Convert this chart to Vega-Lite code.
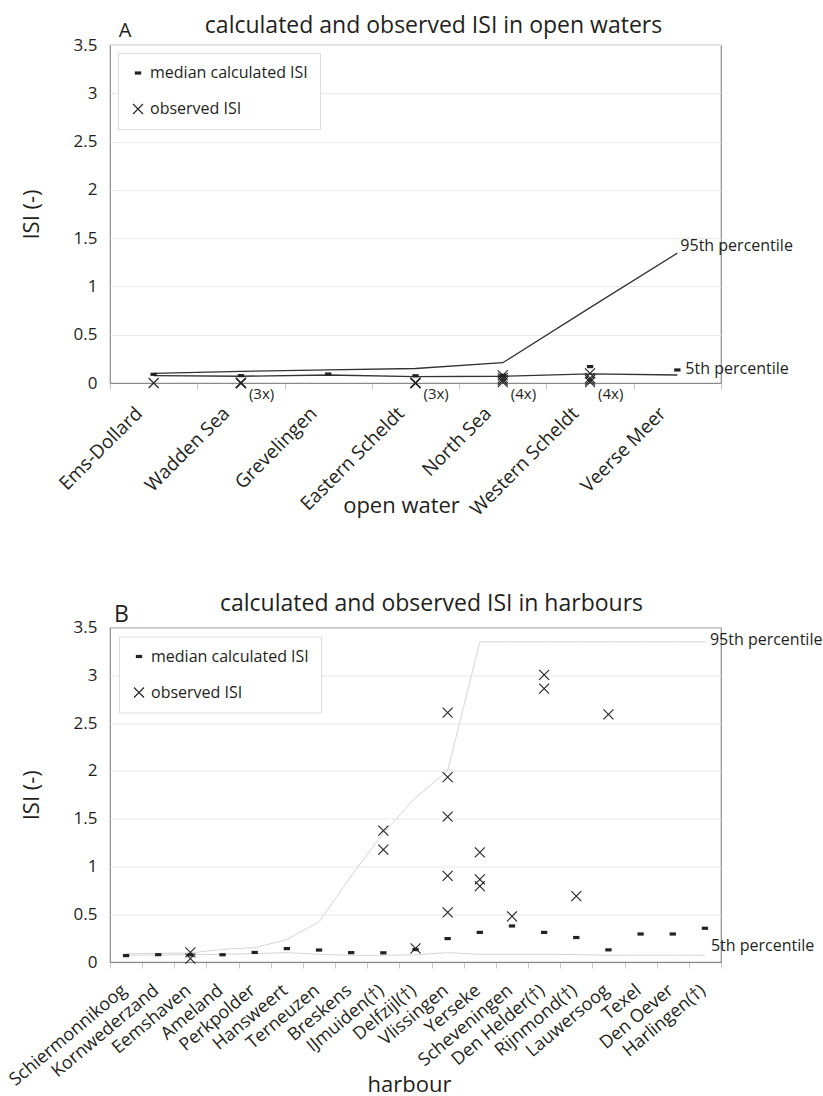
{
  "$schema": "https://vega.github.io/schema/vega-lite/v6.json",
  "autosize": "none",
  "padding": {"left": 110, "top": 45, "right": 713, "bottom": 1051},
  "background": "white",
  "config": {
    "font": "Open Sans",
    "view": {"stroke": "#8a8a8a", "strokeWidth": 1.2},
    "axis": {
      "labelFont": "Open Sans", "labelFontSize": 17, "labelColor": "#231f20",
      "titleFont": "Open Sans", "titleFontSize": 22, "titleFontWeight": "normal", "titleColor": "#231f20",
      "gridColor": "#e8e8e8", "tickColor": "#c8c8c8", "domainColor": "#8a8a8a"
    },
    "axisY": {"ticks": false, "domain": false, "labelPadding": 13, "titleX": -79, "titleBaseline": "middle"},
    "axisX": {"tickBand": "extent", "tickSize": 6, "labelAlign": "right", "labelBaseline": "middle", "grid": false, "titleY": 129, "titleBaseline": "alphabetic"},
    "text": {"font": "Open Sans", "color": "#231f20"}
  },
  "datasets": {
    "openPts": [
      {"site": "Ems-Dollard", "kind": "median calculated ISI", "isi": 0.09},
      {"site": "Wadden Sea", "kind": "median calculated ISI", "isi": 0.076},
      {"site": "Grevelingen", "kind": "median calculated ISI", "isi": 0.093},
      {"site": "Eastern Scheldt", "kind": "median calculated ISI", "isi": 0.075},
      {"site": "North Sea", "kind": "median calculated ISI", "isi": 0.08},
      {"site": "Western Scheldt", "kind": "median calculated ISI", "isi": 0.17},
      {"site": "Veerse Meer", "kind": "median calculated ISI", "isi": 0.135},
      {"site": "Ems-Dollard", "kind": "observed ISI", "isi": 0},
      {"site": "Wadden Sea", "kind": "observed ISI", "isi": 0},
      {"site": "Wadden Sea", "kind": "observed ISI", "isi": 0},
      {"site": "Wadden Sea", "kind": "observed ISI", "isi": 0},
      {"site": "Eastern Scheldt", "kind": "observed ISI", "isi": 0},
      {"site": "Eastern Scheldt", "kind": "observed ISI", "isi": 0},
      {"site": "Eastern Scheldt", "kind": "observed ISI", "isi": 0},
      {"site": "North Sea", "kind": "observed ISI", "isi": 0.01},
      {"site": "North Sea", "kind": "observed ISI", "isi": 0.03},
      {"site": "North Sea", "kind": "observed ISI", "isi": 0.05},
      {"site": "North Sea", "kind": "observed ISI", "isi": 0.08},
      {"site": "Western Scheldt", "kind": "observed ISI", "isi": 0.01},
      {"site": "Western Scheldt", "kind": "observed ISI", "isi": 0.03},
      {"site": "Western Scheldt", "kind": "observed ISI", "isi": 0.05},
      {"site": "Western Scheldt", "kind": "observed ISI", "isi": 0.1}
    ],
    "openPct": [
      {"site": "Ems-Dollard", "pct": "95th percentile", "isi": 0.1},
      {"site": "Wadden Sea", "pct": "95th percentile", "isi": 0.12},
      {"site": "Grevelingen", "pct": "95th percentile", "isi": 0.135},
      {"site": "Eastern Scheldt", "pct": "95th percentile", "isi": 0.15},
      {"site": "North Sea", "pct": "95th percentile", "isi": 0.21},
      {"site": "Western Scheldt", "pct": "95th percentile", "isi": 0.78},
      {"site": "Veerse Meer", "pct": "95th percentile", "isi": 1.345},
      {"site": "Ems-Dollard", "pct": "5th percentile", "isi": 0.076},
      {"site": "Wadden Sea", "pct": "5th percentile", "isi": 0.07},
      {"site": "Grevelingen", "pct": "5th percentile", "isi": 0.083},
      {"site": "Eastern Scheldt", "pct": "5th percentile", "isi": 0.065},
      {"site": "North Sea", "pct": "5th percentile", "isi": 0.07},
      {"site": "Western Scheldt", "pct": "5th percentile", "isi": 0.095},
      {"site": "Veerse Meer", "pct": "5th percentile", "isi": 0.083}
    ],
    "openNotes": [
      {"site": "Wadden Sea", "note": "(3x)", "isi": 0},
      {"site": "Eastern Scheldt", "note": "(3x)", "isi": 0},
      {"site": "North Sea", "note": "(4x)", "isi": 0},
      {"site": "Western Scheldt", "note": "(4x)", "isi": 0}
    ],
    "harbourPts": [
      {"site": "Schiermonnikoog", "kind": "median calculated ISI", "isi": 0.067},
      {"site": "Kornwederzand", "kind": "median calculated ISI", "isi": 0.077},
      {"site": "Eemshaven", "kind": "median calculated ISI", "isi": 0.075},
      {"site": "Ameland", "kind": "median calculated ISI", "isi": 0.076},
      {"site": "Perkpolder", "kind": "median calculated ISI", "isi": 0.1},
      {"site": "Hansweert", "kind": "median calculated ISI", "isi": 0.14},
      {"site": "Terneuzen", "kind": "median calculated ISI", "isi": 0.125},
      {"site": "Breskens", "kind": "median calculated ISI", "isi": 0.098},
      {"site": "IJmuiden(†)", "kind": "median calculated ISI", "isi": 0.096},
      {"site": "Delfzijl(†)", "kind": "median calculated ISI", "isi": 0.13},
      {"site": "Vlissingen", "kind": "median calculated ISI", "isi": 0.245},
      {"site": "Yerseke", "kind": "median calculated ISI", "isi": 0.31},
      {"site": "Scheveningen", "kind": "median calculated ISI", "isi": 0.377},
      {"site": "Den Helder(†)", "kind": "median calculated ISI", "isi": 0.31},
      {"site": "Rijnmond(†)", "kind": "median calculated ISI", "isi": 0.256},
      {"site": "Lauwersoog", "kind": "median calculated ISI", "isi": 0.127},
      {"site": "Texel", "kind": "median calculated ISI", "isi": 0.293},
      {"site": "Den Oever", "kind": "median calculated ISI", "isi": 0.293},
      {"site": "Harlingen(†)", "kind": "median calculated ISI", "isi": 0.353},
      {"site": "Eemshaven", "kind": "observed ISI", "isi": 0.1},
      {"site": "Eemshaven", "kind": "observed ISI", "isi": 0.035},
      {"site": "IJmuiden(†)", "kind": "observed ISI", "isi": 1.375},
      {"site": "IJmuiden(†)", "kind": "observed ISI", "isi": 1.176},
      {"site": "Delfzijl(†)", "kind": "observed ISI", "isi": 0.142},
      {"site": "Vlissingen", "kind": "observed ISI", "isi": 2.61},
      {"site": "Vlissingen", "kind": "observed ISI", "isi": 1.935},
      {"site": "Vlissingen", "kind": "observed ISI", "isi": 1.52},
      {"site": "Vlissingen", "kind": "observed ISI", "isi": 0.9},
      {"site": "Vlissingen", "kind": "observed ISI", "isi": 0.52},
      {"site": "Yerseke", "kind": "observed ISI", "isi": 1.148},
      {"site": "Yerseke", "kind": "observed ISI", "isi": 0.865},
      {"site": "Yerseke", "kind": "observed ISI", "isi": 0.795},
      {"site": "Scheveningen", "kind": "observed ISI", "isi": 0.478},
      {"site": "Den Helder(†)", "kind": "observed ISI", "isi": 3.005},
      {"site": "Den Helder(†)", "kind": "observed ISI", "isi": 2.86},
      {"site": "Rijnmond(†)", "kind": "observed ISI", "isi": 0.69},
      {"site": "Lauwersoog", "kind": "observed ISI", "isi": 2.59}
    ],
    "harbourPct": [
      {"site": "Schiermonnikoog", "pct": "95th percentile", "isi": 0.088},
      {"site": "Kornwederzand", "pct": "95th percentile", "isi": 0.09},
      {"site": "Eemshaven", "pct": "95th percentile", "isi": 0.095},
      {"site": "Ameland", "pct": "95th percentile", "isi": 0.133},
      {"site": "Perkpolder", "pct": "95th percentile", "isi": 0.15},
      {"site": "Hansweert", "pct": "95th percentile", "isi": 0.235},
      {"site": "Terneuzen", "pct": "95th percentile", "isi": 0.42},
      {"site": "Breskens", "pct": "95th percentile", "isi": 0.9},
      {"site": "IJmuiden(†)", "pct": "95th percentile", "isi": 1.35},
      {"site": "Delfzijl(†)", "pct": "95th percentile", "isi": 1.72},
      {"site": "Vlissingen", "pct": "95th percentile", "isi": 2.0},
      {"site": "Yerseke", "pct": "95th percentile", "isi": 3.35},
      {"site": "Scheveningen", "pct": "95th percentile", "isi": 3.35},
      {"site": "Den Helder(†)", "pct": "95th percentile", "isi": 3.35},
      {"site": "Rijnmond(†)", "pct": "95th percentile", "isi": 3.35},
      {"site": "Lauwersoog", "pct": "95th percentile", "isi": 3.35},
      {"site": "Texel", "pct": "95th percentile", "isi": 3.35},
      {"site": "Den Oever", "pct": "95th percentile", "isi": 3.35},
      {"site": "Harlingen(†)", "pct": "95th percentile", "isi": 3.35},
      {"site": "Schiermonnikoog", "pct": "5th percentile", "isi": 0.07},
      {"site": "Kornwederzand", "pct": "5th percentile", "isi": 0.073},
      {"site": "Eemshaven", "pct": "5th percentile", "isi": 0.077},
      {"site": "Ameland", "pct": "5th percentile", "isi": 0.08},
      {"site": "Perkpolder", "pct": "5th percentile", "isi": 0.088},
      {"site": "Hansweert", "pct": "5th percentile", "isi": 0.098},
      {"site": "Terneuzen", "pct": "5th percentile", "isi": 0.08},
      {"site": "Breskens", "pct": "5th percentile", "isi": 0.07},
      {"site": "IJmuiden(†)", "pct": "5th percentile", "isi": 0.07},
      {"site": "Delfzijl(†)", "pct": "5th percentile", "isi": 0.075},
      {"site": "Vlissingen", "pct": "5th percentile", "isi": 0.098},
      {"site": "Yerseke", "pct": "5th percentile", "isi": 0.08},
      {"site": "Scheveningen", "pct": "5th percentile", "isi": 0.08},
      {"site": "Den Helder(†)", "pct": "5th percentile", "isi": 0.08},
      {"site": "Rijnmond(†)", "pct": "5th percentile", "isi": 0.078},
      {"site": "Lauwersoog", "pct": "5th percentile", "isi": 0.07},
      {"site": "Texel", "pct": "5th percentile", "isi": 0.072},
      {"site": "Den Oever", "pct": "5th percentile", "isi": 0.072},
      {"site": "Harlingen(†)", "pct": "5th percentile", "isi": 0.07}
    ],
    "headings": [
      {"panel": "A", "role": "tag", "site": "Ems-Dollard", "isi": 3.5, "text": "A"},
      {"panel": "A", "role": "title", "site": "Eastern Scheldt", "isi": 3.5, "text": "calculated and observed ISI in open waters"},
      {"panel": "B", "role": "tag", "site": "Schiermonnikoog", "isi": 3.5, "text": "B"},
      {"panel": "B", "role": "title", "site": "Delfzijl(†)", "isi": 3.5, "text": "calculated and observed ISI in harbours"}
    ]
  },
  "bounds": "flush",
  "spacing": 244.5,
  "resolve": {
    "scale": {"x": "independent", "y": "independent", "shape": "independent", "size": "independent", "strokeWidth": "independent"},
    "legend": {"shape": "independent", "size": "independent", "strokeWidth": "independent"}
  },
  "vconcat": [
    {
      "width": 611,
      "height": 338,
      "encoding": {
        "x": {"field": "site", "type": "nominal",
              "scale": {"type": "band", "paddingInner": 0, "paddingOuter": 0,
                        "domain": ["Ems-Dollard", "Wadden Sea", "Grevelingen", "Eastern Scheldt", "North Sea", "Western Scheldt", "Veerse Meer"]},
              "axis": {"title": "open water", "titleX": 291, "labelAngle": -45, "labelFontSize": 19, "labelPadding": 21, "labelOffset": -15}},
        "y": {"field": "isi", "type": "quantitative",
              "scale": {"domain": [0, 3.5], "nice": false},
              "axis": {"title": "ISI (-)", "values": [0, 0.5, 1, 1.5, 2, 2.5, 3, 3.5], "format": "~g"}}
      },
      "layer": [
        {
          "data": {"name": "openPct"},
          "mark": {"type": "line", "color": "#333333", "strokeWidth": 1.3},
          "encoding": {"detail": {"field": "pct"}}
        },
        {
          "data": {"name": "openPts"},
          "mark": {"type": "point", "filled": false, "stroke": "#222222", "opacity": 1},
          "encoding": {
            "shape": {"field": "kind", "type": "nominal",
                      "scale": {"domain": ["median calculated ISI", "observed ISI"], "range": ["M-1,0H1", "M-1,-1L1,1M-1,1L1,-1"]},
                      "legend": {"title": null, "orient": "top-left", "offset": 8, "padding": 12, "rowPadding": 20, "strokeColor": "#dddddd", "fillColor": "white", "labelFontSize": 16, "labelFont": "Open Sans", "labelColor": "#231f20", "labelLimit": 300}},
            "size": {"field": "kind", "type": "nominal",
                     "scale": {"domain": ["median calculated ISI", "observed ISI"], "range": [40, 100]},
                     "legend": {"title": null, "orient": "top-left", "offset": 8, "padding": 12, "rowPadding": 20, "strokeColor": "#dddddd", "fillColor": "white", "labelFontSize": 16, "labelFont": "Open Sans", "labelColor": "#231f20", "labelLimit": 300}},
            "strokeWidth": {"field": "kind", "type": "nominal",
                     "scale": {"domain": ["median calculated ISI", "observed ISI"], "range": [3.2, 1.1]},
                     "legend": {"title": null, "orient": "top-left", "offset": 8, "padding": 12, "rowPadding": 20, "strokeColor": "#dddddd", "fillColor": "white", "labelFontSize": 16, "labelFont": "Open Sans", "labelColor": "#231f20", "labelLimit": 300}}
          }
        },
        {
          "data": {"name": "openNotes"},
          "mark": {"type": "text", "align": "left", "baseline": "middle", "dx": 8, "dy": 11, "fontSize": 15},
          "encoding": {"text": {"field": "note"}}
        },
        {
          "data": {"name": "openPct"},
          "transform": [{"filter": "datum.site === 'Veerse Meer' && datum.pct === '95th percentile'"}],
          "mark": {"type": "text", "align": "left", "baseline": "middle", "dx": 3, "dy": -7, "fontSize": 16},
          "encoding": {"text": {"field": "pct"}}
        },
        {
          "data": {"name": "openPct"},
          "transform": [{"filter": "datum.site === 'Veerse Meer' && datum.pct === '5th percentile'"}],
          "mark": {"type": "text", "align": "left", "baseline": "middle", "dx": 8, "dy": -6, "fontSize": 16},
          "encoding": {"text": {"field": "pct"}}
        },
        {
          "data": {"name": "headings"},
          "transform": [{"filter": "datum.panel === 'A' && datum.role === 'tag'"}],
          "mark": {"type": "text", "align": "left", "baseline": "alphabetic", "dx": -35, "dy": -8, "fontSize": 20},
          "encoding": {"text": {"field": "text"}}
        },
        {
          "data": {"name": "headings"},
          "transform": [{"filter": "datum.panel === 'A' && datum.role === 'title'"}],
          "mark": {"type": "text", "align": "center", "baseline": "alphabetic", "dx": 18, "dy": -12.5, "fontSize": 23},
          "encoding": {"text": {"field": "text"}}
        }
      ]
    },
    {
      "width": 611,
      "height": 334.5,
      "encoding": {
        "x": {"field": "site", "type": "nominal",
              "scale": {"type": "band", "paddingInner": 0, "paddingOuter": 0,
                        "domain": ["Schiermonnikoog", "Kornwederzand", "Eemshaven", "Ameland", "Perkpolder", "Hansweert", "Terneuzen", "Breskens", "IJmuiden(†)", "Delfzijl(†)", "Vlissingen", "Yerseke", "Scheveningen", "Den Helder(†)", "Rijnmond(†)", "Lauwersoog", "Texel", "Den Oever", "Harlingen(†)"]},
              "axis": {"title": "harbour", "titleX": 299, "labelAngle": -40, "labelFontSize": 18, "labelPadding": 20, "labelOffset": -2}},
        "y": {"field": "isi", "type": "quantitative",
              "scale": {"domain": [0, 3.5], "nice": false},
              "axis": {"title": "ISI (-)", "values": [0, 0.5, 1, 1.5, 2, 2.5, 3, 3.5], "format": "~g"}}
      },
      "layer": [
        {
          "data": {"name": "harbourPct"},
          "mark": {"type": "line", "color": "#d6d6d6", "strokeWidth": 1},
          "encoding": {"detail": {"field": "pct"}}
        },
        {
          "data": {"name": "harbourPts"},
          "mark": {"type": "point", "filled": false, "stroke": "#222222", "opacity": 1},
          "encoding": {
            "shape": {"field": "kind", "type": "nominal",
                      "scale": {"domain": ["median calculated ISI", "observed ISI"], "range": ["M-1,0H1", "M-1,-1L1,1M-1,1L1,-1"]},
                      "legend": {"title": null, "orient": "top-left", "offset": 9, "padding": 12, "rowPadding": 20, "strokeColor": "#dddddd", "fillColor": "white", "labelFontSize": 16, "labelFont": "Open Sans", "labelColor": "#231f20", "labelLimit": 300}},
            "size": {"field": "kind", "type": "nominal",
                     "scale": {"domain": ["median calculated ISI", "observed ISI"], "range": [40, 100]},
                     "legend": {"title": null, "orient": "top-left", "offset": 9, "padding": 12, "rowPadding": 20, "strokeColor": "#dddddd", "fillColor": "white", "labelFontSize": 16, "labelFont": "Open Sans", "labelColor": "#231f20", "labelLimit": 300}},
            "strokeWidth": {"field": "kind", "type": "nominal",
                     "scale": {"domain": ["median calculated ISI", "observed ISI"], "range": [3.2, 1.1]},
                     "legend": {"title": null, "orient": "top-left", "offset": 9, "padding": 12, "rowPadding": 20, "strokeColor": "#dddddd", "fillColor": "white", "labelFontSize": 16, "labelFont": "Open Sans", "labelColor": "#231f20", "labelLimit": 300}}
          }
        },
        {
          "data": {"name": "harbourPct"},
          "transform": [{"filter": "datum.site === 'Harlingen(†)' && datum.pct === '95th percentile'"}],
          "mark": {"type": "text", "align": "left", "baseline": "middle", "dx": 5, "dy": -2, "fontSize": 16},
          "encoding": {"text": {"field": "pct"}}
        },
        {
          "data": {"name": "harbourPct"},
          "transform": [{"filter": "datum.site === 'Harlingen(†)' && datum.pct === '5th percentile'"}],
          "mark": {"type": "text", "align": "left", "baseline": "middle", "dx": 6, "dy": -9, "fontSize": 16},
          "encoding": {"text": {"field": "pct"}}
        },
        {
          "data": {"name": "headings"},
          "transform": [{"filter": "datum.panel === 'B' && datum.role === 'tag'"}],
          "mark": {"type": "text", "align": "left", "baseline": "alphabetic", "dx": -12, "dy": -6, "fontSize": 23},
          "encoding": {"text": {"field": "text"}}
        },
        {
          "data": {"name": "headings"},
          "transform": [{"filter": "datum.panel === 'B' && datum.role === 'title'"}],
          "mark": {"type": "text", "align": "center", "baseline": "alphabetic", "dx": 16, "dy": -17, "fontSize": 23},
          "encoding": {"text": {"field": "text"}}
        }
      ]
    }
  ]
}
